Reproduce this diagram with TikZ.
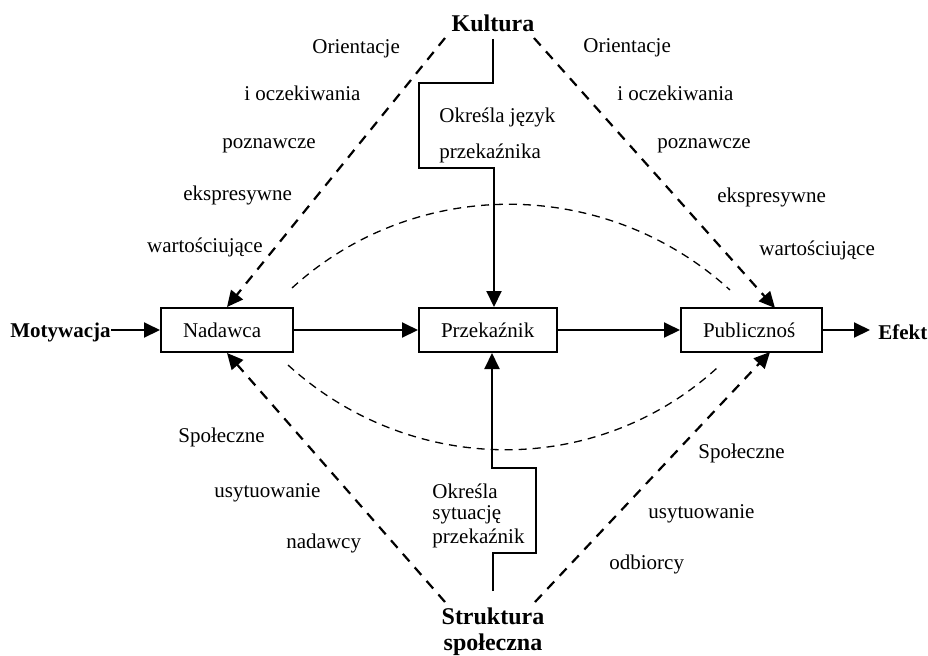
\documentclass[tikz,border=0pt]{standalone}
\usepackage{fontspec}
\setmainfont{Liberation Serif}
\usetikzlibrary{arrows.meta,calc}
\begin{document}
\begin{tikzpicture}[x=0.5pt,y=-0.5pt,
  font=\fontsize{10.5}{12}\selectfont,
  box/.style={draw, line width=1pt, minimum height=22pt, inner xsep=11pt, inner ysep=0pt, align=left},
  lbl/.style={inner sep=0pt, anchor=base west},
  lblr/.style={inner sep=0pt, anchor=base east},
  head/.style={font=\fontsize{12}{13}\selectfont\bfseries, align=center, inner xsep=0pt},
  endlbl/.style={font=\fontsize{10.5}{12}\selectfont\bfseries, inner ysep=0pt},
  flow/.style={line width=1pt, -{Triangle[length=8pt,width=7.5pt]}},
  infl/.style={line width=1.1pt, dash pattern=on 5pt off 4pt, -{Triangle[length=8pt,width=7.5pt]}},
  span/.style={line width=0.65pt, dash pattern=on 4pt off 3pt},
]
\useasboundingbox[fill=white] (0,0) rectangle (928,655);

% main chain
\node[box, text width=44pt]   (nad) at (227,330)   {Nadawca};
\node[box, text width=47pt]   (prz) at (488,330)   {Przekaźnik};
\node[box, text width=48.5pt] (pub) at (751.5,330) {Publicznoś};
\node[endlbl, anchor=west, inner xsep=0pt] (mot) at (10,332) {Motywacja};
\node[endlbl, anchor=west, inner xsep=4pt] (efk) at (870,332) {Efekt};

\draw[flow] (mot.east |- nad.west) -- (nad.west);
\draw[flow] (nad.east) -- (prz.west);
\draw[flow] (prz.east) -- (pub.west);
\draw[flow] (pub.east) -- (pub.east -| efk.west);

% sources of influence
\node[head, inner ysep=3.5pt] (kul) at (493,23) {Kultura};
\node[head, inner ysep=8.3pt] (str) at (493,632) {Struktura\\społeczna};

\draw[flow] (kul.south) |- (419,83) -- (419,168) -| ($(prz.north)+(6,0)$);
\draw[flow] (str.north) |- (536,553) -- (536,468) -| ($(prz.south)+(4,0)$);

\node[lbl] (kj1) at (439,122) {Określa język};
\node[lbl] (kj2) at (439,158) {przekaźnika};
\node[lbl] (ss1) at (432,498) {Określa};
\node[lbl] (ss2) at (432,519) {sytuację};
\node[lbl] (ss3) at (432,543) {przekaźnik};

% dashed influence lines
\coordinate (kulL) at (445,38);
\coordinate (kulR) at (534,38);
\coordinate (strL) at (445,602);
\coordinate (strR) at (535,602);
\coordinate (pubN) at (775,308);
\coordinate (pubS) at (770,352);

\draw[infl] (kulL) -- (nad.north);
\draw[infl] (kulR) -- (pubN);
\draw[infl] (strL) -- (nad.south);
\draw[infl] (strR) -- (pubS);

% communication arcs between sender and audience
\draw[span] (292,288) .. controls (416,175) and (606,177) .. (730,290);
\draw[span] (288,365) .. controls (410,476) and (595,479) .. (717,368);

% orientations of the sender
\node[lbl]  (a1) at (312,53)  {Orientacje};
\node[lbl]  (a2) at (244,100) {i oczekiwania};
\node[lbl]  (a3) at (222,148) {poznawcze};
\node[lbl]  (a4) at (183,200) {ekspresywne};
\node[lblr] (a5) at (263,252) {wartościujące};

% orientations of the audience
\node[lbl] (b1) at (583,52)  {Orientacje};
\node[lbl] (b2) at (617,100) {i oczekiwania};
\node[lbl] (b3) at (657,148) {poznawcze};
\node[lbl] (b4) at (717,202) {ekspresywne};
\node[lbl] (b5) at (759,255) {wartościujące};

% social position
\node[lbl] (c1) at (178,442) {Społeczne};
\node[lbl] (c2) at (214,497) {usytuowanie};
\node[lbl] (c3) at (286,548) {nadawcy};
\node[lbl] (d1) at (698,458) {Społeczne};
\node[lbl] (d2) at (648,518) {usytuowanie};
\node[lbl] (d3) at (609,569) {odbiorcy};
\end{tikzpicture}
\end{document}
